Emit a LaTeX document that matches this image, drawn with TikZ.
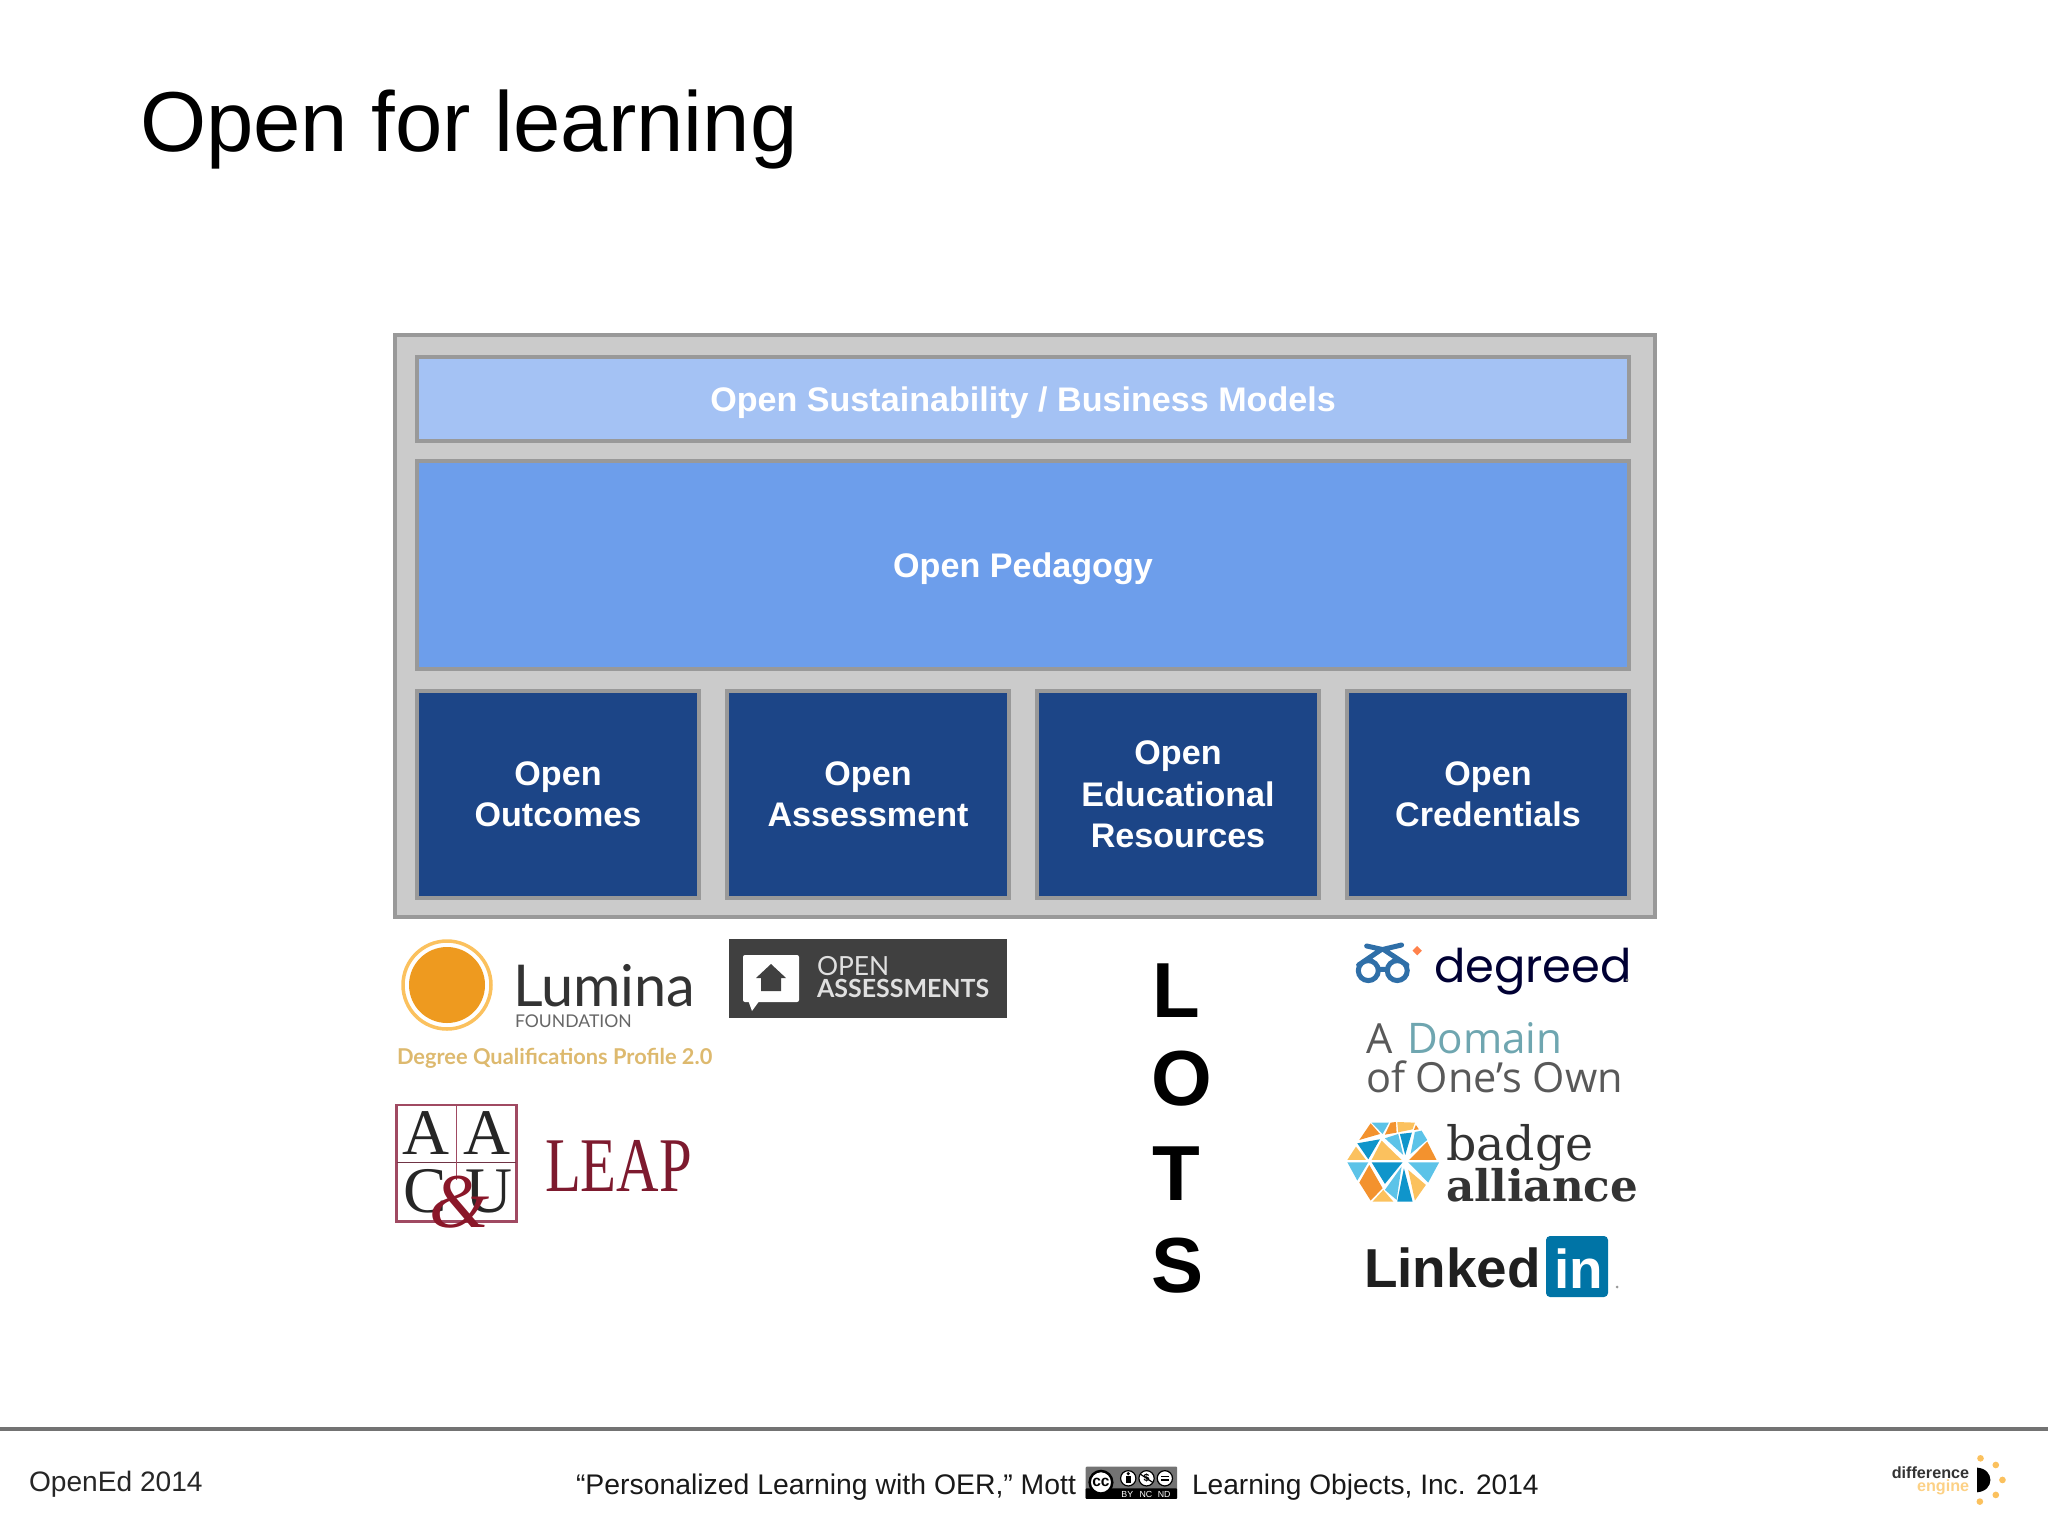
\documentclass[tikz,border=0pt]{standalone}
\usepackage{fontspec}
\setmainfont{Liberation Sans}
\newfontfamily\latofont{Lato}
\newfontfamily\timesfont{Liberation Serif}
\newfontfamily\slabfont{DejaVu Serif}
\newfontfamily\opensansfont{Open Sans}
\newfontfamily\poppinsfont{Poppins}
\newcommand{\fsz}[2]{\fontsize{#1}{#2}\selectfont}
\definecolor{frameGray}{HTML}{999999}
\definecolor{paneGray}{HTML}{CBCBCB}
\definecolor{paleBlue}{HTML}{A4C2F4}
\definecolor{midBlue}{HTML}{6D9EEB}
\definecolor{darkBlue}{HTML}{1C4587}
\definecolor{wine}{HTML}{7D1A2E}
\definecolor{rosy}{HTML}{A04A62}
\definecolor{luminaOrange}{HTML}{EE9A1F}
\definecolor{dqpGold}{HTML}{DDB96E}
\definecolor{specBlue}{HTML}{2F6FA8}
\definecolor{domainTeal}{HTML}{6FA6B0}
\definecolor{mosOrange}{HTML}{F3922E}
\definecolor{mosYellow}{HTML}{FBC15E}
\definecolor{mosSky}{HTML}{5CC3E8}
\definecolor{mosBlue}{HTML}{0F95CB}
\tikzset{
  pane/.style={draw=frameGray,line width=0.04cm,inner sep=0,outer sep=0,text=white,align=center,font=\bfseries\fsz{9.7}{11.75}},
  logotext/.style={inner sep=0,outer sep=0,anchor=base west},
  footer/.style={inner sep=0,outer sep=0,anchor=base west,font=\fsz{8.0}{10}},
  bigletter/.style={inner sep=0,outer sep=0,anchor=base west,font=\bfseries\fsz{22.2}{27}},
  serifletter/.style={inner sep=0,outer sep=0,anchor=base,font=\timesfont\fsz{18.5}{22},text=black!85},
  ccicon/.style={draw=black,fill=white,line width=0.012cm},
  ccmark/.style={inner sep=0,outer sep=0,font=\bfseries\fsz{3}{3.5}},
  ccword/.style={inner sep=0,outer sep=0,text=white,font=\fsz{2.5}{3}},
}
\begin{document}
\begin{tikzpicture}[x=0.01cm,y=-0.01cm]
	\useasboundingbox (0,0) rectangle (2048,1536);
	\node[logotext,font=\fsz{24.2}{29}] (title) at (140,151) {Open for learning};

	\node[pane,fill=paneGray,minimum width=12.60cm,minimum height=5.82cm] (stack) at (1025,626) {};
	\node[pane,fill=paleBlue,text depth=0pt,minimum width=12.12cm,minimum height=0.83cm] (sustain) at (1023,399) {Open Sustainability / Business Models};
	\node[pane,fill=midBlue,text depth=0pt,minimum width=12.12cm,minimum height=2.08cm] (pedagogy) at (1023,565) {Open Pedagogy};
	\node[pane,fill=darkBlue,minimum width=2.82cm,minimum height=2.07cm] (outcomes) at (558,794.5) {Open\\Outcomes};
	\node[pane,fill=darkBlue,minimum width=2.82cm,minimum height=2.07cm] (assess) at (868,794.5) {Open\\Assessment};
	\node[pane,fill=darkBlue,minimum width=2.82cm,minimum height=2.07cm] (resources) at (1178,794.5) {Open\\Educational\\Resources};
	\node[pane,fill=darkBlue,minimum width=2.82cm,minimum height=2.07cm] (credentials) at (1488,794.5) {Open\\Credentials};

	% lumina
	\draw[draw=mosYellow,line width=0.035cm] (447,985) circle (44);
	\fill[fill=luminaOrange] (447,985) circle (38);
	\node[logotext,text=black!80,font=\latofont\fsz{16.4}{19}] (lumina) at (513,1006) {Lumina};
	\node[logotext,text=black!60,font=\latofont\fsz{5.0}{6}] (foundation) at (515,1027) {FOUNDATION};
	\node[logotext,text=dqpGold,font=\latofont\bfseries\fsz{6.2}{8}] (dqp) at (397,1064) {Degree Qualifications Profile 2.0};

	% aacu
	\begin{scope}[shift={(385,1090)},x=0.003333cm,y=-0.003333cm]
		\draw[draw=rosy,line width=0.025cm] (35,45) rectangle (395,395);
		\draw[draw=rosy!70!black,line width=0.015cm] (35,218) -- (395,218);
		\draw[draw=rosy,line width=0.015cm] (215,45) -- (215,270);
		\node[serifletter] (aleft) at (122,195) {A};
		\node[serifletter] (aright) at (305,195) {A};
		\node[serifletter] (cletter) at (120,368) {C};
		\node[serifletter] (uletter) at (312,368) {U};
		\node[serifletter,text=wine!90!red,font=\timesfont\itshape\fsz{22}{26}] (amp) at (225,412) {\&};
	\end{scope}
	\node[logotext,text=wine,font=\timesfont\fsz{22}{26}] (leap) at (545,1191) {\scalebox{.76}[1]{LEAP}};

	% open assessments
	\fill[fill=black!75] (729,939) rectangle (1007,1018);
	\fill[fill=white,rounded corners=0.02cm] (743,955) rectangle (799,1002);
	\fill[fill=white] (748,1000) -- (760,1000) -- (752,1011) -- cycle;
	\fill[fill=black!75] (771,964) -- (786,978) -- (781,978) -- (781,991) -- (761,991) -- (761,978) -- (756,978) -- cycle;
	\node[logotext,text=black!12,font=\latofont\fsz{7.5}{9}] (openword) at (817,975) {OPEN};
	\node[logotext,text=black!12,font=\latofont\bfseries\fsz{7.1}{8}] (assessword) at (817,997) {ASSESSMENTS};

	% lots
	\node[bigletter] (lotsl) at (1152,1017) {L};
	\node[bigletter] (lotso) at (1151,1105) {O};
	\node[bigletter] (lotst) at (1152,1200) {T};
	\node[bigletter] (lotss) at (1151,1292) {S};

	% degreed
	\begin{scope}[shift={(1340,930)},x=0.003333cm,y=-0.003333cm]
		\draw[draw=specBlue,line width=0.05cm,line cap=round] (85,122) circle (30) (172,122) circle (30) (115,118) -- (142,118) (56,105) -- (125,58) -- (80,48) (201,105) -- (130,58) -- (185,45);
		\fill[fill=orange!60!red!70] (232,48) -- (246,62) -- (232,76) -- (218,62) -- cycle;
	\end{scope}
	\node[logotext,text=black!80!blue,font=\poppinsfont\fsz{13.2}{16}] (degreed) at (1434,982) {degreed};
	\fill[fill=black!50] (1627,980) circle (1.6);

	% domain
	\node[logotext,text=black!65,font=\opensansfont\fsz{11.8}{14}] (domainA) at (1366,1053) {A};
	\node[logotext,text=domainTeal,font=\opensansfont\fsz{12.0}{14}] (domainword) at (1407,1053) {Domain};
	\node[logotext,text=black!65,font=\opensansfont\fsz{11.8}{14}] (ownword) at (1366,1092) {of One’s Own};

	% badge alliance
	\begin{scope}[shift={(1340,1110)},x=0.003333cm,y=-0.003333cm]
		\fill[mosOrange] (92,40) -- (120,72) -- (58,90) -- cycle;
		\fill[mosSky] (95,38) -- (147,38) -- (128,72) -- cycle;
		\fill[mosOrange] (152,38) -- (168,36) -- (170,68) -- (135,74) -- cycle;
		\fill[mosYellow] (172,36) -- (225,38) -- (218,58) -- (175,67) -- cycle;
		\fill[mosOrange] (228,45) -- (237,58) -- (222,60) -- cycle;
		\fill[mosSky] (225,66) -- (245,62) -- (262,90) -- (212,132) -- cycle;
		\fill[mosBlue] (180,72) -- (216,68) -- (196,135) -- cycle;
		\fill[mosSky] (135,85) -- (175,72) -- (190,135) -- cycle;
		\fill[mosBlue] (52,100) -- (120,88) -- (85,148) -- cycle;
		\fill[mosYellow] (125,92) -- (185,150) -- (95,150) -- cycle;
		\fill[mosYellow] (48,110) -- (78,150) -- (22,150) -- cycle;
		\fill[mosOrange] (262,95) -- (290,150) -- (208,150) -- cycle;
		\fill[mosSky] (22,157) -- (85,157) -- (52,212) -- cycle;
		\fill[mosBlue] (95,157) -- (188,157) -- (135,222) -- cycle;
		\fill[mosSky] (205,157) -- (298,157) -- (265,218) -- cycle;
		\fill[mosOrange] (88,165) -- (128,235) -- (92,272) -- (58,218) -- cycle;
		\fill[mosSky] (185,170) -- (170,270) -- (135,240) -- cycle;
		\fill[mosBlue] (192,175) -- (218,275) -- (172,275) -- cycle;
		\fill[mosYellow] (205,180) -- (258,225) -- (225,272) -- cycle;
		\fill[mosYellow] (130,240) -- (160,275) -- (98,275) -- cycle;
	\end{scope}
	\node[logotext,text=black!80,font=\slabfont\fsz{13.5}{16}] (badgeword) at (1446,1160) {badge};
	\node[logotext,text=black!80,font=\slabfont\bfseries\fsz{12.4}{14}] (allianceword) at (1446,1201) {alliance};

	% linkedin
	\node[logotext,text=black!88,font=\bfseries\fsz{15.6}{19}] (linked) at (1364,1287) {Linked};
	\fill[fill=blue!30!cyan!65!black,rounded corners=0.04cm] (1546,1236) rectangle (1608,1297);
	\node[logotext,text=white,font=\bfseries\fsz{15.6}{19}] (inword) at (1554,1288) {in};
	\fill[fill=black!40] (1617,1287) circle (1.5);

	% footer
	\coordinate (footl) at (0,1429);
	\coordinate (footr) at (2048,1429);
	\draw[draw=black!55,line width=0.04cm] (footl) -- (footr);
	\node[footer,text=black!85] (event) at (29,1491) {OpenEd 2014};
	\node[footer,text=black!90,font=\fsz{8.07}{10}] (citation) at (576,1494) {“Personalized Learning with OER,” Mott};
	\node[footer,text=black!90] (publisher) at (1192,1494) {Learning Objects, Inc. 2014};

	% cc badge
	\begin{scope}[shift={(1070,1455)},x=0.003333cm,y=-0.003333cm]
		\fill[fill=black!55,rounded corners=0.01cm] (47,35) rectangle (322,132);
		\fill[fill=black,rounded corners=0.01cm] (47,100) rectangle (322,132);
		\draw[ccicon,line width=0.025cm] (93,82) circle (34);
		\node[ccmark,font=\bfseries\fsz{4.4}{5}] (ccglyph) at (93,82) {cc};
		\draw[ccicon] (175,70) circle (23);
		\draw[ccicon] (230,70) circle (23);
		\draw[ccicon] (285,70) circle (23);
		\fill[fill=black] (175,56) circle (5);
		\fill[fill=black] (168,64) rectangle (182,85);
		\node[ccmark] (ncglyph) at (230,70) {\$};
		\draw[line width=0.012cm] (212,58) -- (248,82);
		\fill[fill=black] (274,62) rectangle (296,67);
		\fill[fill=black] (274,73) rectangle (296,78);
		\node[ccword] (byword) at (172,118) {BY};
		\node[ccword] (ncword) at (228,118) {NC};
		\node[ccword] (ndword) at (283,118) {ND};
	\end{scope}

	% difference engine
	\begin{scope}[shift={(1870,1445)},x=0.003333cm,y=-0.003333cm]
		\node[inner sep=0,anchor=east,text=black!80,font=\bfseries\fsz{4.6}{5}] (diffword) at (300,82) {difference};
		\node[inner sep=0,anchor=east,text=mosYellow!75!white,font=\bfseries\fsz{4.6}{5}] (engword) at (300,128) {engine};
		\fill[fill=black] (322,68) .. controls (375,72) and (375,138) .. (322,142) -- cycle;
		\foreach \dotx/\doty in {332/40,378/60,398/105,378/150,330/170}
			\fill[fill=mosYellow] (\dotx,\doty) circle (10);
	\end{scope}
\end{tikzpicture}
\end{document}
